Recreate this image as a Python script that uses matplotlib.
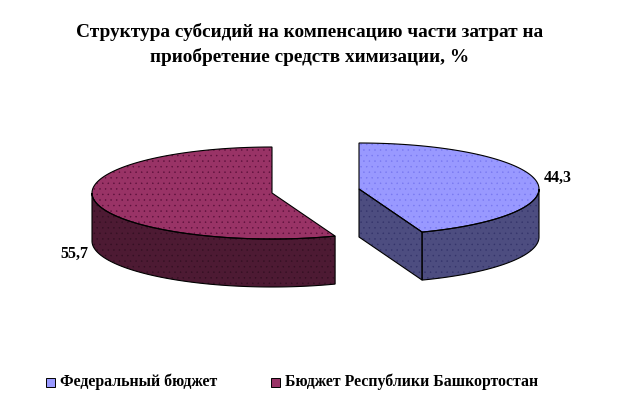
import matplotlib
matplotlib.use('Agg')
import matplotlib.pyplot as plt
from matplotlib.patches import Polygon, Rectangle
import numpy as np

plt.rcParams['font.family'] = ['Liberation Serif', 'DejaVu Sans']
plt.rcParams['hatch.linewidth'] = 0.3

title = 'Структура субсидий на компенсацию части затрат на\nприобретение средств химизации, %'
labels = ['Федеральный бюджет', 'Бюджет Республики Башкортостан']
values = [44.3, 55.7]
value_labels = ['44,3', '55,7']

top_colors = ['#9999ff', '#993366']
side_colors = ['#4d4d80', '#4d1a33']
dot_top = ['#7777f0', '#5a0f3a']
dot_side = ['#33336a', '#330f22']

# pie geometry in pixels
centers = [(359, 189), (272, 193)]
rx, ry = 180, 46
depth = 48


def rim(cx, cy, a, b):
    # a, b are clockwise angles from the top, in degrees
    t = np.radians(np.linspace(a, b, 200))
    return np.column_stack([cx + rx * np.sin(t), cy - ry * np.cos(t)])


def face(ax, pts, color, dots):
    ax.add_patch(Polygon(pts, closed=True, facecolor=color, edgecolor=dots, hatch='...', lw=0, zorder=2))
    ax.add_patch(Polygon(pts, closed=True, facecolor='none', edgecolor='black', lw=0.8, zorder=3))


fig = plt.figure(figsize=(6.2, 4.07), dpi=100)
ax = fig.add_axes([0, 0, 1, 1])
ax.set_xlim(0, 620)
ax.set_ylim(407, 0)
ax.axis('off')

angle = values[0] / sum(values) * 360

# first slice, on the right
cx, cy = centers[0]
edge = rim(cx, cy, 90, angle)
wall = np.vstack([edge, (edge + [0, depth])[::-1]])
face(ax, wall, side_colors[0], dot_side[0])
apex = rim(cx, cy, angle, angle)[0]
cut = np.array([[cx, cy], apex, apex + [0, depth], [cx, cy + depth]])
face(ax, cut, side_colors[0], dot_side[0])
face(ax, np.vstack([[[cx, cy]], rim(cx, cy, 0, angle)]), top_colors[0], dot_top[0])

# second slice, on the left
cx, cy = centers[1]
edge = rim(cx, cy, angle, 270)
wall = np.vstack([edge, (edge + [0, depth])[::-1]])
face(ax, wall, side_colors[1], dot_side[1])
face(ax, np.vstack([[[cx, cy]], rim(cx, cy, angle, 360)]), top_colors[1], dot_top[1])

ax.text(309.5, 44.5, title, ha='center', va='center', fontsize=13.9, fontweight='bold', linespacing=1.45)
ax.text(558, 178, value_labels[0], ha='center', va='center', fontsize=11.5, fontweight='bold')
ax.text(74, 254, value_labels[1], ha='center', va='center', fontsize=11.5, fontweight='bold')

# legend
for x, lab, col in zip([46, 271], labels, top_colors):
    ax.add_patch(Rectangle((x, 377.5), 8.5, 9, facecolor=col, edgecolor='black', lw=0.7))
    ax.text(x + 14, 382, lab, ha='left', va='center', fontsize=11.4, fontweight='bold')

fig.savefig('out.png', dpi=100)
